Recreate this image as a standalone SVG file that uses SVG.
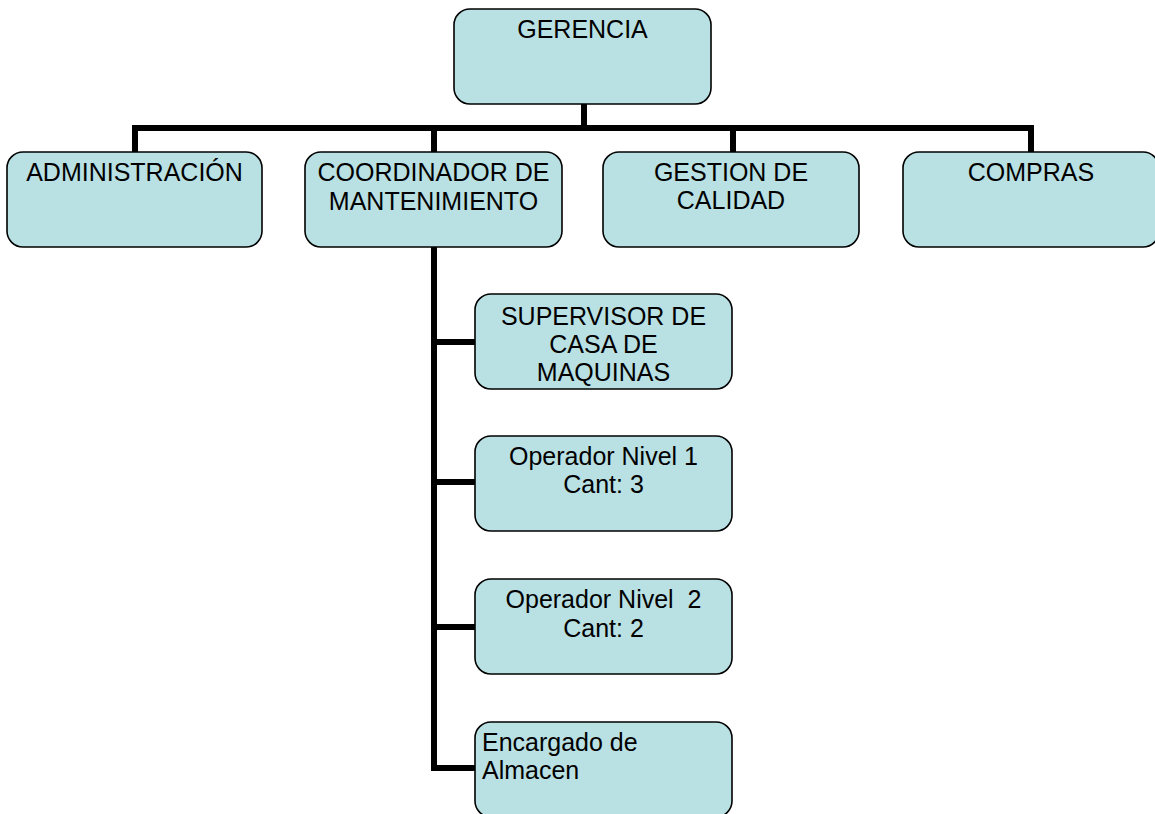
<svg xmlns="http://www.w3.org/2000/svg" width="1155" height="814" viewBox="0 0 1155 814">
<style>
.box{fill:#B9E0E3;stroke:#000;stroke-width:1.6}
.t{font-family:"Liberation Sans",Arial,sans-serif;font-size:25px;fill:#000;text-anchor:middle}
.tl{font-family:"Liberation Sans",Arial,sans-serif;font-size:25px;fill:#000}
.c{fill:none;stroke:#000;stroke-width:6;stroke-linejoin:miter;stroke-linecap:butt}
</style>
<rect width="1155" height="814" fill="#fff"/>
<g id="connectors">
<path class="c" d="M584,104 V128"/>
<path class="c" d="M135,152 V128 H1031 V152"/>
<path class="c" d="M434,128 V152"/>
<path class="c" d="M733,128 V152"/>
<path class="c" d="M434,247 V768 H475"/>
<path class="c" d="M434,342 H475"/>
<path class="c" d="M434,482 H475"/>
<path class="c" d="M434,627 H475"/>
</g>
<g id="gerencia">
<rect class="box" x="454" y="9" width="257" height="95" rx="16"/>
<text class="t" x="582.5" y="38">GERENCIA</text>
</g>
<g id="administracion">
<rect class="box" x="7" y="152" width="255" height="95" rx="16"/>
<text class="t" x="134.5" y="181">ADMINISTRACIÓN</text>
</g>
<g id="coordinador">
<rect class="box" x="305" y="152" width="257" height="95" rx="16"/>
<text class="t" x="433.5" y="181">COORDINADOR DE</text>
<text class="t" x="433.5" y="210">MANTENIMIENTO</text>
</g>
<g id="gestion">
<rect class="box" x="603" y="152" width="256" height="95" rx="16"/>
<text class="t" x="731" y="181">GESTION DE</text>
<text class="t" x="731" y="209">CALIDAD</text>
</g>
<g id="compras">
<rect class="box" x="903" y="152" width="256" height="95" rx="16"/>
<text class="t" x="1031" y="181">COMPRAS</text>
</g>
<g id="supervisor">
<rect class="box" x="475" y="294" width="257" height="95" rx="16"/>
<text class="t" x="603.5" y="325">SUPERVISOR DE</text>
<text class="t" x="603.5" y="353">CASA DE</text>
<text class="t" x="603.5" y="381">MAQUINAS</text>
</g>
<g id="operador1">
<rect class="box" x="475" y="436" width="257" height="95" rx="16"/>
<text class="t" x="603.5" y="465">Operador Nivel 1</text>
<text class="t" x="603.5" y="493">Cant: 3</text>
</g>
<g id="operador2">
<rect class="box" x="475" y="579" width="257" height="95" rx="16"/>
<text class="t" x="603.5" y="608" xml:space="preserve">Operador Nivel  2</text>
<text class="t" x="603.5" y="637">Cant: 2</text>
</g>
<g id="encargado">
<rect class="box" x="475" y="722" width="257" height="95" rx="16"/>
<text class="tl" x="482" y="751">Encargado de</text>
<text class="tl" x="482" y="779">Almacen</text>
</g>
</svg>
